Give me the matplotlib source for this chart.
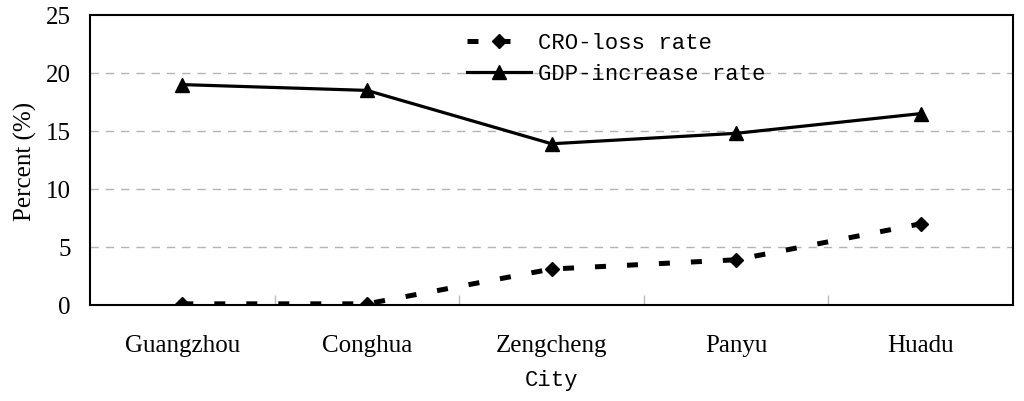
import matplotlib
matplotlib.use("Agg")
import matplotlib.pyplot as plt
import numpy as np

cities = ["Guangzhou", "Conghua", "Zengcheng", "Panyu", "Huadu"]
cro_loss = [0.1, 0.1, 3.1, 3.9, 7.0]
gdp_increase = [19.0, 18.5, 13.9, 14.8, 16.5]
y_ticks = [0, 5, 10, 15, 20, 25]

serif = "Liberation Serif"
mono = "Liberation Mono"

fig = plt.figure(figsize=(10.24, 4.02), dpi=100)
ax = fig.add_axes([90/1024, 1 - 306/402, (1013-90)/1024, (306-16)/402])

x = np.arange(len(cities))
ax.plot(x, cro_loss, color="black", lw=3.6, dashes=(2.2, 4.2),
        marker="D", markersize=7.5, label="CRO-loss rate")
ax.plot(x, gdp_increase, color="black", lw=2.3,
        marker="^", markersize=10, label="GDP-increase rate")

ax.set_xlim(-0.5, len(cities) - 0.5)
ax.set_ylim(0, 25)
ax.set_yticks(y_ticks)
ax.set_yticklabels([str(v) for v in y_ticks], fontfamily=serif, fontsize=18)
for v in y_ticks[1:-1]:
    ax.axhline(v, color="#b4b4b4", lw=1.0, dashes=(6, 5), zorder=0)

ax.set_xticks(x)
ax.set_xticklabels(cities, fontfamily=serif, fontsize=18)
ax.tick_params(axis="x", length=0, pad=21)
ax.tick_params(axis="y", length=0, pad=14)
ax.set_xticks(np.arange(0.5, len(cities) - 0.5, 1.0), minor=True)
ax.tick_params(axis="x", which="minor", direction="in", length=7, color="#bbbbbb", width=1)

for s in ax.spines.values():
    s.set_linewidth(1.5)
    s.set_color("black")

ax.set_xlabel("City", fontfamily=mono, fontsize=16, labelpad=9)
ax.set_ylabel("Percent (%)", fontfamily=serif, fontsize=18, labelpad=6)

leg = ax.legend(loc="upper left", bbox_to_anchor=(0.4085, 0.94), frameon=False,
                prop={"family": mono, "size": 16}, handlelength=2.9,
                handletextpad=0.3, labelspacing=0.45, borderpad=0, borderaxespad=0)

fig.savefig("out.png", dpi=100)
